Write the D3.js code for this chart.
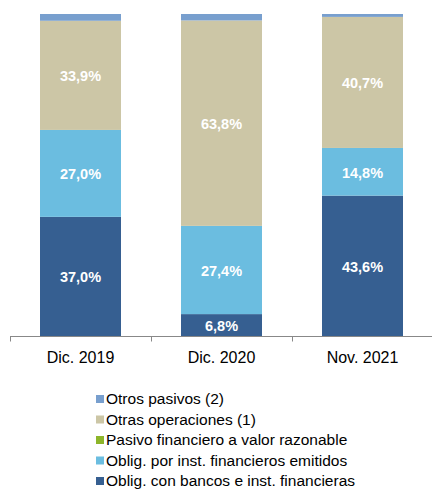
<!DOCTYPE html>
<html><head><meta charset="utf-8">
<script src="https://cdn.jsdelivr.net/npm/d3@7"></script>
<style>body{margin:0;background:#fff}svg{display:block;font-family:"Liberation Sans",Arial,sans-serif}</style>
</head><body><svg id="c" width="432" height="498"></svg>
<script>
const categories = ["Dic. 2019", "Dic. 2020", "Nov. 2021"];
const obligBancos = [37.0, 6.8, 43.6];
const obligEmitidos = [27.0, 27.4, 14.8];
const pasivoRazonable = [0.0, 0.0, 0.0];
const otrasOperaciones = [33.9, 63.8, 40.7];
const otrosPasivos = [2.1, 2.0, 0.9];
const seriesNames = ["Oblig. con bancos e inst. financieras","Oblig. por inst. financieros emitidos","Pasivo financiero a valor razonable","Otras operaciones (1)","Otros pasivos (2)"];
const seriesValues = [obligBancos, obligEmitidos, pasivoRazonable, otrasOperaciones, otrosPasivos];
const colors = ["#365f91","#6bbde0","#8db52a","#ccc6a6","#789fce"];
const labelled = [true, true, false, true, false];

const svg = d3.select("#c");
const x = d3.scaleBand().domain(categories).range([10, 433]).paddingInner(0).paddingOuter(0);
const y = d3.scaleLinear().domain([0, 100]).range([336, 14]);
const barW = 81;

const keys = seriesNames;
const rows = categories.map((c, i) => { const o = {cat: c}; keys.forEach((k, j) => o[k] = seriesValues[j][i]); return o; });
const stacked = d3.stack().keys(keys)(rows);

stacked.forEach((s, j) => {
  const g = svg.append("g");
  g.selectAll("rect").data(s).join("rect")
    .attr("x", d => x(d.data.cat) + (x.bandwidth() - barW) / 2)
    .attr("width", barW)
    .attr("y", d => y(d[1]))
    .attr("height", d => y(d[0]) - y(d[1]))
    .attr("fill", colors[j]);
  if (labelled[j]) {
    g.selectAll("text").data(s).join("text")
      .attr("x", d => x(d.data.cat) + x.bandwidth() / 2)
      .attr("y", d => (y(d[0]) + y(d[1])) / 2 + 2)
      .attr("text-anchor", "middle").attr("dominant-baseline", "middle")
      .attr("fill", "#fff").attr("font-weight", "bold").attr("font-size", 14.5)
      .text(d => (d[1] - d[0]).toFixed(1).replace(".", ",") + "%");
  }
});

// axis
const ax = svg.append("g").attr("transform", "translate(0,336.5)");
ax.append("line").attr("x1", 10).attr("x2", 432).attr("stroke", "#888");
ax.selectAll("line.t").data([10, 151, 292, 432]).join("line").attr("class","t")
  .attr("x1", d => d + 0.5).attr("x2", d => d + 0.5).attr("y1", 0).attr("y2", 5).attr("stroke", "#888");
ax.selectAll("text").data(categories).join("text")
  .attr("x", d => x(d) + x.bandwidth() / 2).attr("y", 22).attr("dominant-baseline", "middle")
  .attr("text-anchor", "middle").attr("font-size", 16).attr("fill", "#000").text(d => d);

// legend (reverse order)
const legOrder = [4, 3, 2, 1, 0];
const lg = svg.append("g");
legOrder.forEach((j, i) => {
  const cy = 399 + i * 20.5;
  lg.append("rect").attr("x", 96).attr("y", cy - 4).attr("width", 8).attr("height", 8).attr("fill", colors[j]);
  lg.append("text").attr("x", 106).attr("y", cy + 1).attr("dominant-baseline", "middle")
    .attr("font-size", 15.5).attr("fill", "#000").text(seriesNames[j]);
});
</script></body></html>
